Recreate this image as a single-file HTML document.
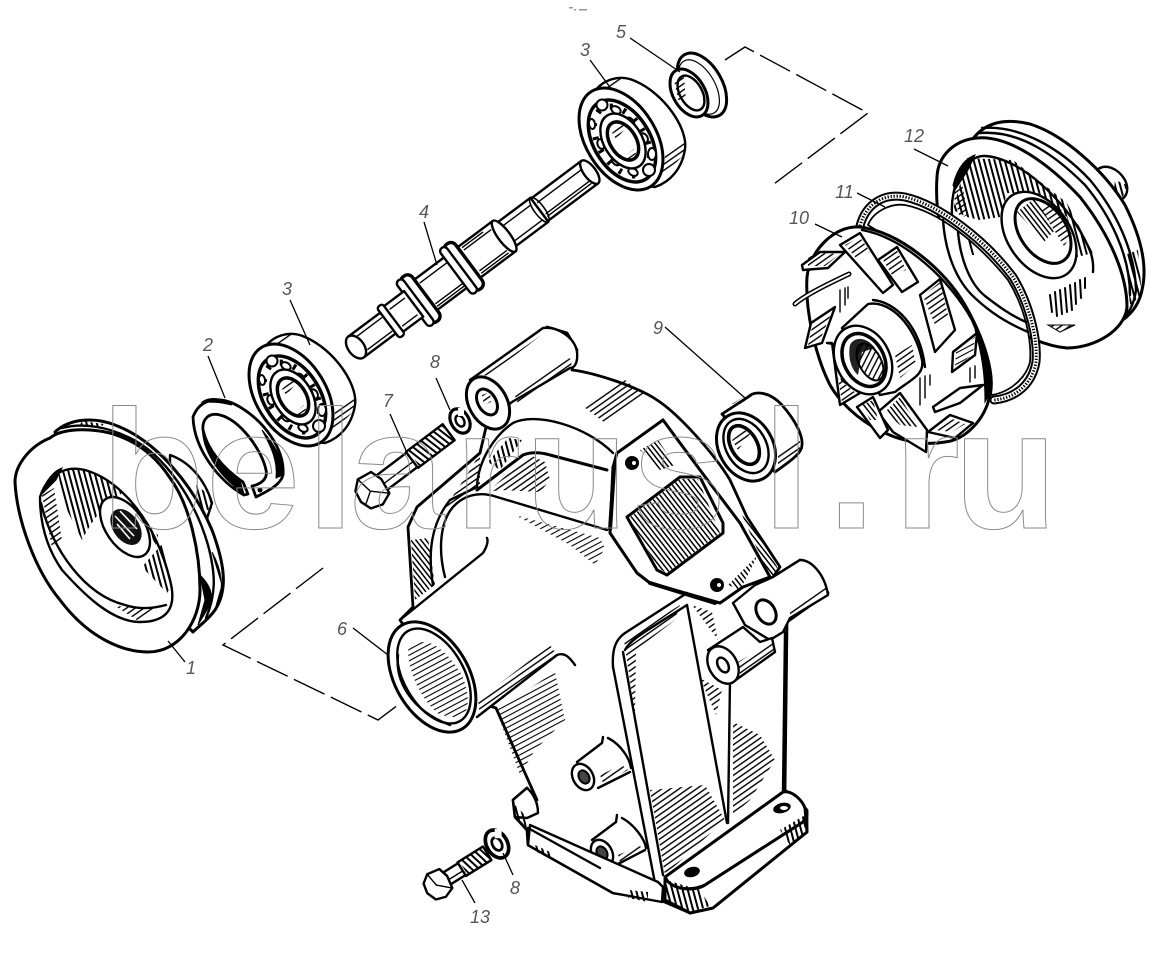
<!DOCTYPE html>
<html><head><meta charset="utf-8"><style>
html,body{margin:0;padding:0;background:#fff}
svg{display:block}
.k{fill:none;stroke:#000;stroke-width:2.4;stroke-linejoin:round;stroke-linecap:round}
.w{fill:#fff;stroke:#000;stroke-width:2.4;stroke-linejoin:round;stroke-linecap:round}
.t{fill:none;stroke:#000;stroke-width:1.4;stroke-linecap:round}
.b{fill:#000;stroke:#000;stroke-width:1}
.lb{font:italic 18px "Liberation Sans",sans-serif;fill:#555}
.wm{font:bold 169px "Liberation Sans",sans-serif;fill:none;stroke:#8a8a8a;stroke-width:1}
</style></head><body>
<svg width="1154" height="957" viewBox="0 0 1154 957">
<defs>
<pattern id="h1" width="5" height="5" patternUnits="userSpaceOnUse" patternTransform="rotate(-35)"><rect width="5" height="1.4" fill="#000"/></pattern>
<pattern id="h2" width="5" height="5" patternUnits="userSpaceOnUse" patternTransform="rotate(75)"><rect width="5" height="2" fill="#000"/></pattern>
<pattern id="h3" width="4" height="4" patternUnits="userSpaceOnUse" patternTransform="rotate(52)"><rect width="4" height="1.5" fill="#000"/></pattern>
<pattern id="h4" width="5" height="5" patternUnits="userSpaceOnUse" patternTransform="rotate(-28)"><rect width="5" height="1.1" fill="#000"/></pattern>
<g id="bear">
<path class="w" d="M263,350 C272,335 290,330 305,337 C335,350 358,385 355,405 C352,425 340,438 325,443 L300,440 Z"/>
<polygon points="335,412 356,396 355,410 332,432" fill="url(#h1)"/>
<polygon points="270,346 288,334 294,336 276,350" fill="url(#h1)"/>
<ellipse class="w" cx="291" cy="395" rx="35" ry="56" transform="rotate(-32 291 395)" style="stroke-width:3"/>
<ellipse cx="292" cy="397" rx="28" ry="45" transform="rotate(-32 292 397)" fill="#fff" stroke="#000" stroke-width="3.5"/>
<ellipse cx="292" cy="397" rx="23" ry="38" transform="rotate(-32 292 397)" fill="none" stroke="#000" stroke-width="6" stroke-dasharray="3,11"/>
<g fill="#fff" stroke="#000" stroke-width="2">
<circle cx="272" cy="361" r="5.5"/><ellipse cx="286" cy="366" rx="5" ry="3.5" transform="rotate(30 286 366)"/><ellipse cx="300" cy="378" rx="5" ry="3.5" transform="rotate(50 300 378)"/><ellipse cx="314" cy="394" rx="5" ry="3.5" transform="rotate(60 314 394)"/><ellipse cx="322" cy="410" rx="4" ry="6"/><circle cx="319" cy="426" r="6"/><ellipse cx="303" cy="428" rx="5" ry="3.5" transform="rotate(30 303 428)"/><ellipse cx="286" cy="417" rx="5" ry="3.5" transform="rotate(45 286 417)"/><ellipse cx="271" cy="400" rx="3.5" ry="5" transform="rotate(-20 271 400)"/><ellipse cx="262" cy="380" rx="3" ry="5" transform="rotate(-10 262 380)"/>
</g>
<ellipse class="w" cx="293" cy="397" rx="19" ry="30" transform="rotate(-32 293 397)"/>
<ellipse cx="293" cy="397" rx="13" ry="21" transform="rotate(-32 293 397)" fill="#fff" stroke="#000" stroke-width="3.5"/>
<polygon points="282,389 292,380 296,384 286,395" fill="url(#h1)"/>
<polygon points="295,412 304,405 306,410 299,415" fill="url(#h1)"/>
</g>
<g id="lock">
<ellipse cx="0" cy="0" rx="9" ry="13" style="fill:none;stroke:#000;stroke-width:3.2" transform="rotate(-30)"/>
<ellipse cx="0" cy="0" rx="4" ry="6" class="k" transform="rotate(-30)"/>
<rect x="-2" y="-13" width="6" height="8" fill="#fff"/>
</g>
</defs>
<rect width="1154" height="957" fill="#fff"/>
<g fill="#999"><rect x="569" y="7" width="4" height="1.5"/><rect x="574" y="9" width="2" height="1.5"/><rect x="579" y="9" width="8" height="1.5"/></g>

<!-- dashed connectors -->
<polyline points="725,60 745,47 868,113 770,187" fill="none" stroke="#000" stroke-width="1.4" stroke-dasharray="34,7"/>
<polyline points="323,568 223,645 378,720 398,705" fill="none" stroke="#000" stroke-width="1.4" stroke-dasharray="34,7"/>

<!-- PULLEY 1 -->
<path class="w" d="M170,455 C190,462 205,480 212,503 L200,540 L170,480Z"/>
<polygon points="196,485 212,497 212,510 200,510" fill="url(#h2)"/>
<path class="w" style="stroke-width:3" d="M55,432 C70,418 95,417 115,425 C160,442 195,490 212,530 C225,565 228,590 215,610 C208,620 200,625 193,632 L120,560Z"/>
<path class="k" d="M62,428 C85,422 110,428 130,438 C165,455 195,500 208,545 C216,575 216,595 206,618"/>
<polygon points="82,421 104,424 100,428 80,425" fill="url(#h2)"/>
<path d="M200,575 L205,600 L198,625 L210,605 C214,595 210,585 200,575Z" class="b"/>
<path d="M212,552 L222,585 L216,606 C225,590 222,570 212,552Z" class="b"/>
<path class="w" style="stroke-width:3" d="M50,438 C62,428 90,428 110,433 C135,440 155,455 170,478 C190,505 200,553 200,590 C200,620 180,652 148,652 C125,652 90,640 60,600 C35,570 17,520 15,482 C15,465 30,446 50,438Z"/>
<path class="k" d="M40,497 C47,475 65,465 85,470 C120,480 155,520 170,580 C178,610 165,622 140,622 C110,622 80,590 62,570 C48,550 40,525 40,497Z"/>
<path fill="url(#h2)" d="M58,470 L85,470 C100,474 115,486 122,493 C105,505 95,515 82,540 L62,500Z"/>
<path fill="url(#h2)" d="M142,567 L163,543 L172,585 L167,593Z"/>
<polygon points="42,495 54,488 62,540 52,548" fill="url(#h1)"/>
<polygon points="115,606 160,608 140,622" fill="url(#h1)"/>
<path d="M40,497 C45,480 55,470 62,468 L56,480 L42,494Z" class="b"/>
<path class="k" d="M41,503 C52,550 85,595 125,605 C140,610 155,608 166,605"/>
<ellipse class="w" cx="125" cy="527" rx="19" ry="34" transform="rotate(-35 125 527)"/>
<ellipse cx="126" cy="527" rx="13" ry="20" transform="rotate(-35 126 527)" fill="#111"/>
<g stroke="#fff" stroke-width="1.6"><line x1="115" y1="516" x2="134" y2="536"/><line x1="117" y1="524" x2="130" y2="539"/><line x1="120" y1="511" x2="137" y2="529"/></g>
<polygon points="148,525 158,535 156,545 150,535" fill="url(#h2)"/>

<!-- RING 2 -->
<path class="w" style="stroke-width:2.8" d="M193,417 C200,398 220,395 240,407 C265,422 285,450 283,475 C281,484 270,490 256,497 L252,486 C262,484 268,478 266,470 C262,450 240,420 220,415 C208,412 202,420 203,430 C207,448 222,468 243,482 L248,494 L244,495 C220,482 194,450 193,417Z"/>
<path class="b" d="M203,425 C205,445 220,468 240,480 L244,494 L234,486 C215,470 200,445 203,425Z"/>
<path class="b" d="M262,430 C272,442 284,458 283,475 L276,478 C278,460 270,445 262,430Z"/>
<path class="b" d="M202,402 C210,396 222,398 232,405 L222,403 C215,402 208,402 202,402Z"/>
<circle cx="236" cy="486" r="2.5"/><circle cx="260" cy="490" r="2.5"/>

<!-- BEARINGS -->
<use href="#bear"/>
<use href="#bear" x="330" y="-256"/>

<!-- SHAFT 4 -->
<g transform="translate(356,347) rotate(-36.8)">
<rect x="229" y="-14" width="63" height="28" class="w"/>
<ellipse cx="292" cy="0" rx="6" ry="14" class="w"/>
<line x1="232" y1="-7" x2="286" y2="-7" class="t"/><line x1="232" y1="7" x2="286" y2="7" class="t"/><line x1="232" y1="10" x2="286" y2="10" class="t"/>
<rect x="185" y="-15" width="44" height="30" class="w"/>
<ellipse cx="229" cy="0" rx="5" ry="15" class="k" style="stroke-width:1.6"/>
<line x1="190" y1="-9" x2="225" y2="-9" class="t"/><line x1="190" y1="10" x2="225" y2="10" class="t"/>
<rect x="138" y="-19" width="47" height="38" class="w"/>
<ellipse cx="185" cy="0" rx="6" ry="19" class="w"/>
<line x1="145" y1="-13" x2="178" y2="-13" class="t"/><line x1="145" y1="-16" x2="170" y2="-16" class="t"/><line x1="145" y1="13" x2="178" y2="13" class="t"/><line x1="145" y1="16" x2="178" y2="16" class="t"/>
<rect x="128" y="-28" width="13" height="56" class="w" rx="6" style="stroke-width:3.4"/>
<line x1="88" y1="0" x2="88" y2="0"/>
<rect x="84" y="-19" width="46" height="38" class="w"/>
<line x1="90" y1="-13" x2="124" y2="-13" class="t"/><line x1="90" y1="13" x2="124" y2="13" class="t"/><line x1="90" y1="16" x2="124" y2="16" class="t"/>
<rect x="124" y="-28" width="8" height="56" class="w" rx="4"/>
<rect x="74" y="-28" width="13" height="56" class="w" rx="6" style="stroke-width:3.4"/>
<rect x="70" y="-28" width="8" height="56" class="w" rx="4"/>
<rect x="44" y="-16" width="28" height="32" class="w"/>
<line x1="50" y1="-10" x2="68" y2="-10" class="t"/><line x1="50" y1="11" x2="68" y2="11" class="t"/>
<rect x="0" y="-13" width="44" height="26" class="w"/>
<line x1="8" y1="-8" x2="38" y2="-8" class="t"/><line x1="8" y1="9" x2="38" y2="9" class="t"/>
<rect x="40" y="-19" width="7" height="38" class="w" rx="3"/>
<ellipse cx="0" cy="0" rx="8" ry="13" class="w"/>
</g>

<!-- COLLAR 5 -->
<ellipse cx="702" cy="85" rx="20" ry="35" transform="rotate(-30 702 85)" class="w" style="stroke-width:3"/>
<ellipse cx="699" cy="87" rx="16" ry="30" transform="rotate(-30 699 87)" class="k" style="stroke-width:1.2"/>
<ellipse cx="689" cy="93" rx="16" ry="26" transform="rotate(-30 689 93)" class="w" style="stroke-width:3"/>
<ellipse cx="691" cy="93" rx="11" ry="19" transform="rotate(-30 691 93)" class="w"/>
<polygon points="674,80 684,77 686,100 678,100" fill="url(#h1)"/>
<polygon points="703,88 708,92 708,102 703,100" fill="url(#h2)"/>

<!-- PULLEY 12 -->
<path class="w" d="M1097,170 C1105,163 1118,168 1125,180 C1130,190 1126,198 1120,200 L1100,185Z"/>
<polygon points="1115,180 1127,185 1123,197 1114,190" fill="url(#h2)"/>
<path class="w" style="stroke-width:3" d="M972,140 C985,122 1005,118 1030,124 C1065,135 1105,172 1125,205 C1140,235 1148,265 1142,290 C1138,310 1125,320 1110,328 L1030,250Z"/>
<path class="k" d="M982,128 C1020,125 1060,148 1090,180 C1115,210 1135,250 1136,290 C1134,305 1128,315 1120,322"/>
<path class="k" d="M980,133 C1020,130 1055,155 1085,185 C1110,215 1130,255 1130,295"/>
<polygon points="1125,255 1138,250 1142,295 1130,305" fill="url(#h2)"/>
<path class="w" style="stroke-width:3" d="M937,177 C938,155 955,140 977,138 C1010,135 1050,165 1080,197 C1110,235 1127,275 1127,307 C1125,330 1095,348 1067,348 C1030,345 970,310 950,265 C940,235 935,205 937,177Z"/>
<path class="k" d="M952,215 C950,185 965,155 985,156 C1020,158 1065,200 1085,240 C1090,250 1094,258 1093,272"/>
<path fill="url(#h2)" d="M953,210 L967,158 L1013,160 L1067,203 L1093,253 L1077,257 L1067,217 L1037,193 L1007,193 L1000,217 L980,220 L967,217Z"/>
<path class="b" d="M953,185 C958,165 968,157 975,155 L968,170 L955,190Z"/>
<polygon points="952,190 962,183 968,215 960,218" fill="url(#h1)"/>
<ellipse cx="1039" cy="235" rx="31" ry="48" transform="rotate(-35 1039 235)" class="w"/>
<ellipse cx="1043" cy="231" rx="23" ry="36" transform="rotate(-35 1043 231)" fill="#fff" stroke="#000" stroke-width="3"/>
<polygon points="1017,212 1035,198 1055,230 1044,242" fill="url(#h3)"/>
<polygon points="1040,208 1058,202 1072,235 1064,246" fill="url(#h1)"/>
<path class="t" style="stroke-width:2" d="M1050,295 L1052,312 M1055,292 L1057,316 M1060,290 L1062,314 M1065,288 L1067,312 M1070,285 L1072,310 M1075,283 L1076,304 M1080,280 L1081,298 M1085,278 L1085,288"/>
<polygon points="1048,325 1075,325 1060,332" fill="url(#h1)" stroke="#000"/>

<!-- GASKET 11 -->
<path d="M860,226 C866,203 885,193 905,197 C940,205 985,240 1013,277 C1030,305 1038,340 1036,362 C1032,385 1015,398 994,400" fill="none" stroke="#000" stroke-width="9" stroke-linecap="round"/>
<path d="M860,226 C866,203 885,193 905,197 C940,205 985,240 1013,277 C1030,305 1038,340 1036,362 C1032,385 1015,398 994,400" fill="none" stroke="#fff" stroke-width="5" stroke-linecap="round"/>
<path d="M860,226 C866,203 885,193 905,197 C940,205 985,240 1013,277 C1030,305 1038,340 1036,362 C1032,385 1015,398 994,400" fill="none" stroke="#000" stroke-width="3" stroke-dasharray="1.3,1.7"/>
<path class="k" style="fill:#fff;stroke-width:1.8" d="M868,225 C873,212 890,203 905,205 C940,212 978,243 1008,280 C1025,308 1032,340 1030,362 C1026,378 1010,392 992,395 L960,330 L900,245Z"/>
<path class="k" d="M943,220 C945,250 955,280 975,298 C990,312 1005,322 1028,332"/>
<path class="k" d="M958,232 C960,255 968,282 985,296 C998,306 1010,315 1026,322"/>
<polygon points="965,240 972,238 976,255 970,255" fill="url(#h2)"/>

<!-- IMPELLER 10 -->
<path class="w" style="stroke-width:3" d="M807,277 C810,250 835,225 860,227 C900,232 945,270 965,305 C985,340 995,375 990,395 C985,420 965,440 945,442 C900,450 850,420 830,385 C815,355 805,310 807,277Z"/>
<path class="k" d="M862,230 C905,238 950,280 972,320 C985,350 992,375 988,395"/>
<path d="M975,330 L985,360 L992,390 L985,402 C985,375 982,355 975,330Z" class="b"/>
<polygon points="802,265 820,252 845,252 828,268 803,270" class="w"/><polygon points="808,257 820,253 840,254 825,266 808,266" fill="url(#h1)"/>
<polygon points="840,245 860,233 893,285 883,293" class="w"/><polygon points="845,245 860,237 870,252 856,258" fill="url(#h1)"/>
<polygon points="878,260 897,247 918,282 902,292" class="w"/><polygon points="883,260 897,250 906,270 892,275" fill="url(#h1)"/>
<polygon points="920,295 940,279 955,330 935,352" class="w"/><polygon points="923,296 940,282 948,315 935,325" fill="url(#h1)"/>
<polygon points="953,352 977,333 975,355 952,372" class="w"/><polygon points="956,352 975,337 973,354 955,368" fill="url(#h4)"/>
<polygon points="933,407 960,388 983,385 960,403 935,412" class="w"/>
<polygon points="928,432 950,415 973,423 955,438" class="w"/><polygon points="935,430 950,418 965,424 952,432" fill="url(#h1)"/>
<polygon points="878,412 900,393 927,430 926,452 893,432" class="w"/><polygon points="885,412 900,397 918,427 900,425" fill="url(#h3)"/>
<polygon points="857,407 873,397 888,430 880,438" class="w"/><polygon points="862,405 873,400 878,420 870,420" fill="url(#h3)"/>
<polygon points="827,343 832,343 840,405 860,393 842,380 838,345" class="w"/><polygon points="838,378 858,395 842,403" fill="url(#h1)"/>
<polygon points="805,348 811,323 835,307 822,343" class="w"/><polygon points="808,345 812,327 832,312 820,340" fill="url(#h1)"/>
<path d="M795,304 C805,295 830,283 849,274" fill="none" stroke="#000" stroke-width="5" stroke-linecap="round"/>
<path d="M795,304 C805,295 830,283 849,274" fill="none" stroke="#fff" stroke-width="2" stroke-linecap="round"/>
<path class="w" d="M842,328 L868,304 C890,300 915,325 922,360 C925,375 910,380 895,392 L880,395 Z"/>
<path class="k" d="M873,300 C895,302 920,325 925,367"/>
<polygon points="895,355 912,345 916,365 900,378" fill="url(#h1)"/>
<ellipse cx="863" cy="360" rx="27" ry="36" transform="rotate(-28 863 360)" class="w"/>
<ellipse cx="864" cy="360" rx="20" ry="28" transform="rotate(-28 864 360)" fill="#fff" stroke="#000" stroke-width="3.5"/>
<path d="M850,345 C855,335 868,338 875,348 L862,352 L858,375 C850,368 848,355 850,345Z" fill="#222"/>
<ellipse cx="870" cy="362" rx="11" ry="20" transform="rotate(-28 870 362)" fill="url(#h1)" stroke="#000" stroke-width="2"/>
<g class="t"><path d="M840,290 L840,312 M845,288 L845,305 M848,287 L848,298"/><path d="M920,378 L920,405 M925,376 L925,398 M930,375 L930,385"/><path d="M970,368 L970,382 M975,366 L975,378"/></g>

<!-- HOUSING 6 main body -->
<path class="w" style="stroke-width:2.8" d="M400,620 L413,607 L408,527 L417,507 L480,453 L487,423 L500,405 L547,327 L567,333 L577,350 L572,370 C590,372 635,385 657,400 C680,415 715,455 730,480 L747,517 L780,567 L773,577 L800,560 L820,577 L828,593 L787,622 L785,790 L807,810 L807,832 L713,908 L690,913 L660,900 L613,893 L528,845 L527,830 L515,817 L513,800 L527,788 L537,800 L496,708 L470,700 L420,650Z"/>
<!-- top boss -->
<path class="w" d="M470,380 L543,328 C558,326 575,338 577,352 C578,362 575,368 570,368 L512,402 L490,420Z"/>
<polygon points="478,374 538,331 544,333 488,376" fill="url(#h1)"/>
<polygon points="515,396 558,365 570,358 572,366 518,404" fill="url(#h1)"/>
<ellipse cx="488" cy="403" rx="19" ry="28" transform="rotate(-30 488 403)" class="w" style="stroke-width:3"/>
<ellipse cx="487" cy="402" rx="9" ry="14" transform="rotate(-30 487 402)" fill="#fff" stroke="#000" stroke-width="3"/>
<polygon points="482,395 490,392 491,402 484,405" fill="url(#h1)"/>
<!-- top band hatch -->
<polygon points="584,407 625,380 645,395 605,423" fill="url(#h1)"/>
<!-- arches -->
<path class="k" d="M477,487 C478,460 495,435 513,423 C535,412 585,425 613,453"/>
<path class="k" style="stroke-width:3" d="M477,490 L523,455 C530,452 540,452 550,455 L607,470"/>
<path class="k" d="M445,577 C438,550 440,522 453,507 C462,497 477,490 497,497 L607,530"/>
<path class="k" d="M433,585 C428,555 430,525 450,500 L475,488"/>
<polygon points="488,462 508,438 522,440 500,470" fill="url(#h2)"/>
<polygon points="470,470 480,453 480,488 445,508" fill="url(#h1)"/>
<polygon points="487,492 530,455 545,462 550,480 540,492 500,490" fill="url(#h1)"/>
<polygon points="515,515 600,538 605,548 595,565 570,545" fill="url(#h4)"/>
<polygon points="411,540 428,538 435,585 415,600" fill="url(#h3)"/>
<!-- flange plate -->
<path class="w" style="stroke-width:3" d="M617,453 L663,420 L700,470 L740,523 L770,577 L743,587 L720,603 L650,583 L637,573 L610,533 L613,467Z"/>
<polygon points="612,468 617,453 612,530 608,530" fill="#000"/>
<polygon points="640,450 658,440 675,465 660,470" fill="url(#h3)"/>
<path class="w" style="stroke-width:3" d="M627,517 L680,477 L700,477 L723,523 L723,533 L667,575 L657,570Z"/>
<path fill="url(#h3)" d="M629,518 L680,479 L698,479 L720,533 L667,573 L658,568Z"/>
<polygon points="742,515 752,525 782,575 770,578" fill="url(#h3)"/>
<polygon points="728,585 745,568 758,555 740,590" fill="url(#h3)"/>
<circle cx="632" cy="463" r="7" fill="#000"/><circle cx="634" cy="463" r="2" fill="#fff"/>
<circle cx="717" cy="585" r="7" fill="#000"/><circle cx="719" cy="585" r="2" fill="#fff"/>
<path class="k" d="M650,583 L715,603" style="stroke-width:4"/>
<!-- right boss lug -->
<path class="w" d="M773,577 L800,560 C812,560 825,575 828,595 L790,618 L783,632 L770,640 L745,625 L733,603 L755,585Z"/>
<polygon points="790,610 825,585 828,592 790,618" fill="url(#h1)"/>
<ellipse cx="766" cy="612" rx="9" ry="13" transform="rotate(-30 766 612)" fill="#fff" stroke="#000" stroke-width="3"/>
<!-- pipe -->
<path fill="#fff" d="M410,618 L483,556 L490,660 L560,655 L480,714 L450,700Z"/>
<path class="k" d="M400,620 L483,553 C488,545 488,540 487,538"/>
<path class="k" d="M477,717 L557,655 C565,652 570,658 575,665"/>
<polygon points="478,700 550,645 557,655 480,716" fill="url(#h1)"/>
<polygon points="496,710 555,672 565,720 535,750 520,775" fill="url(#h4)"/>
<ellipse cx="432" cy="677" rx="37" ry="60" transform="rotate(-30 432 677)" class="w" style="stroke-width:3"/>
<ellipse cx="434" cy="676" rx="30" ry="52" transform="rotate(-30 434 676)" fill="#fff" stroke="#000" stroke-width="2.4"/>
<path fill="url(#h4)" d="M408,650 C420,635 440,640 462,675 C470,695 470,712 460,718 L440,715 C420,700 408,670 408,650Z"/>
<path class="k" d="M398,655 C395,680 410,710 450,725"/>
<!-- inner panels -->
<path class="k" d="M613,667 C612,650 615,640 625,633 L687,593"/>
<path class="k" d="M613,667 L655,883"/>
<path class="k" d="M623,652 L663,875"/>
<path class="k" d="M625,650 C630,640 640,635 687,605"/>
<path class="k" d="M687,605 L727,823"/>
<path class="k" d="M730,680 L728,823"/>
<path class="k" d="M785,632 L783,792"/>
<polygon points="624,640 680,605 675,620 636,650 635,715" fill="url(#h1)"/>
<polygon points="650,790 705,785 725,820 665,875" fill="url(#h1)"/>
<polygon points="733,722 760,735 775,760 750,800 733,815" fill="url(#h1)"/>
<polygon points="700,678 722,690 716,715" fill="url(#h1)"/>
<polygon points="692,605 712,612 718,640" fill="url(#h1)"/>
<!-- bottom right boss -->
<path class="w" d="M708,650 L743,627 L760,642 L772,638 L775,652 L733,682 Z"/>
<polygon points="738,662 772,642 775,650 740,675" fill="url(#h1)"/>
<ellipse cx="723" cy="665" rx="14" ry="20" transform="rotate(-30 723 665)" class="w"/>
<ellipse cx="723" cy="665" rx="5" ry="8" transform="rotate(-30 723 665)" fill="#fff" stroke="#000" stroke-width="2.5"/>
<!-- small bosses -->
<path fill="#fff" d="M577,760 L603,740 L631,768 L600,788Z"/>
<path class="k" d="M577,762 L602,743 L603,737 M608,738 C622,745 630,760 631,768 M598,788 L630,772"/>
<polygon points="600,775 622,765 628,770 603,783" fill="url(#h1)"/>
<ellipse cx="583" cy="777" rx="10" ry="14" transform="rotate(-30 583 777)" class="w"/>
<ellipse cx="584" cy="777" rx="5" ry="7" transform="rotate(-30 584 777)" fill="#444" stroke="#000" stroke-width="2"/>
<path fill="#fff" d="M592,838 L616,820 L646,848 L618,866Z"/>
<path class="k" d="M592,840 L616,822 L617,815 M622,818 C635,825 645,840 646,848 M618,864 L645,850"/>
<polygon points="618,855 640,846 645,852 620,862" fill="url(#h1)"/>
<ellipse cx="602" cy="853" rx="10" ry="14" transform="rotate(-30 602 853)" class="w"/>
<ellipse cx="602" cy="853" rx="5" ry="7" transform="rotate(-30 602 853)" fill="#444" stroke="#000" stroke-width="2"/>
<!-- bottom flange -->
<path class="w" d="M513,800 L527,788 C535,795 538,805 538,813 L527,818 L515,817Z"/>
<polygon points="515,805 525,815 527,830 515,817" fill="url(#h2)"/>
<path class="w" d="M530,825 L658,882 L663,887 L662,902 L613,893 L528,845Z"/>
<path class="k" d="M528,828 L600,868"/>
<polygon points="535,845 550,852 552,860 537,852" fill="url(#h2)"/>
<polygon points="628,890 648,892 648,902 628,898" fill="url(#h2)"/>
<path class="w" style="stroke-width:3" d="M665,877 L783,792 C792,790 802,800 805,808 C808,812 806,818 803,822 L705,885 C695,890 680,890 670,885Z"/>
<path class="w" style="stroke-width:3" d="M665,877 C670,890 695,892 705,885 L803,822 C808,816 808,812 805,808 L807,832 L713,908 L690,913 L665,900Z"/>
<polygon points="666,880 700,890 710,906 690,912 666,900" fill="url(#h2)"/>
<polygon points="780,830 805,815 805,832 790,845" fill="url(#h2)"/>
<ellipse cx="692" cy="872" rx="8" ry="5" fill="#000" transform="rotate(-15 692 872)"/>
<ellipse cx="782" cy="808" rx="9" ry="5" fill="#000" transform="rotate(-15 782 808)"/>
<ellipse cx="784" cy="808" rx="4" ry="2" fill="#fff"/>

<!-- BUSHING 9 -->
<path class="w" style="stroke-width:2.8" d="M722,414 L748,397 C755,390 770,392 782,405 C795,420 803,435 802,445 C802,452 795,458 775,472Z"/>
<polygon points="732,404 748,394 752,396 740,404" fill="url(#h1)"/>
<polygon points="778,455 800,440 800,452 778,470" fill="url(#h1)"/>
<ellipse cx="746" cy="447" rx="27" ry="36" transform="rotate(-30 746 447)" class="w" style="stroke-width:3"/>
<ellipse cx="746" cy="446" rx="20" ry="29" transform="rotate(-30 746 446)" class="w"/>
<ellipse cx="744" cy="445" rx="13" ry="21" transform="rotate(-30 744 445)" fill="#fff" stroke="#000" stroke-width="3.6"/>
<polygon points="732,440 745,430 750,434 738,450" fill="url(#h1)"/>

<!-- BOLT 7 -->
<g transform="translate(372,490) rotate(-37)">
<rect x="10" y="-9" width="42" height="18" class="w"/>
<rect x="50" y="-10" width="46" height="20" class="w"/>
<rect x="52" y="-10" width="44" height="20" fill="url(#h2)"/>
<line x1="12" y1="2" x2="50" y2="2" class="t"/>
<polygon points="-14,-9 -5,-17 10,-15 14,-3 12,13 0,18 -12,14 -16,3" class="w"/>
<line x1="-5" y1="-17" x2="-2" y2="0" class="t"/><line x1="-2" y1="0" x2="12" y2="13" class="t"/><line x1="-2" y1="0" x2="-14" y2="8" class="t"/>
</g>
<!-- BOLT 13 -->
<g transform="translate(438,884) rotate(-32)">
<rect x="8" y="-7" width="24" height="14" class="w"/>
<rect x="28" y="-8" width="30" height="16" class="w"/>
<rect x="30" y="-8" width="28" height="16" fill="url(#h2)"/>
<line x1="10" y1="2" x2="28" y2="2" class="t"/>
<polygon points="-12,-8 -4,-14 9,-12 12,-2 10,11 0,15 -10,12 -14,2" class="w"/>
<line x1="-4" y1="-14" x2="-2" y2="0" class="t"/><line x1="-2" y1="0" x2="10" y2="11" class="t"/>
</g>
<use href="#lock" transform="translate(460,421)"/>
<use href="#lock" transform="translate(497,844) scale(1.15)"/>

<!-- Leaders -->
<g stroke="#000" stroke-width="1.3" fill="none">
<line x1="590" y1="60" x2="612" y2="90"/><line x1="630" y1="38" x2="680" y2="72"/>
<line x1="914" y1="149" x2="948" y2="166"/><line x1="857" y1="193" x2="885" y2="207"/>
<line x1="815" y1="224" x2="842" y2="237"/><line x1="424" y1="222" x2="437" y2="265"/>
<line x1="665" y1="327" x2="745" y2="398"/><line x1="290" y1="300" x2="310" y2="345"/>
<line x1="208" y1="356" x2="225" y2="398"/><line x1="436" y1="378" x2="450" y2="410"/>
<line x1="390" y1="414" x2="408" y2="455"/><line x1="168" y1="641" x2="185" y2="662"/>
<line x1="353" y1="628" x2="388" y2="655"/><line x1="503" y1="853" x2="513" y2="875"/>
<line x1="462" y1="880" x2="475" y2="903"/>
</g>

<!-- Labels -->
<text class="lb" x="580" y="56">3</text><text class="lb" x="616" y="38">5</text>
<text class="lb" x="904" y="142">12</text><text class="lb" x="835" y="198">11</text>
<text class="lb" x="789" y="224">10</text><text class="lb" x="419" y="218">4</text>
<text class="lb" x="653" y="334">9</text><text class="lb" x="282" y="295">3</text>
<text class="lb" x="203" y="351">2</text><text class="lb" x="430" y="368">8</text>
<text class="lb" x="383" y="407">7</text><text class="lb" x="186" y="674">1</text>
<text class="lb" x="337" y="635">6</text><text class="lb" x="510" y="894">8</text>
<text class="lb" x="470" y="923">13</text>

<!-- Watermark -->
<text class="wm" y="528" x="101 206 307 350 455 525 632 763 828 894 954">belarusl.ru</text>
</svg>
</body></html>
